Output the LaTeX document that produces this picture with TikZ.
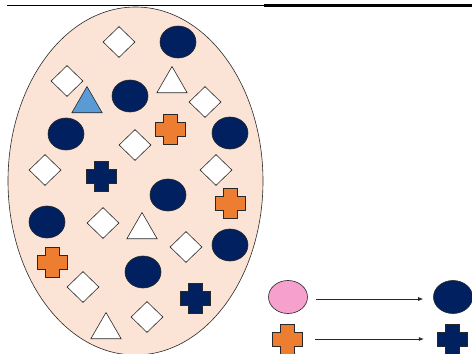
\documentclass[tikz,border=0pt]{standalone}
\usetikzlibrary{shapes.geometric,arrows.meta}
\definecolor{peach}{RGB}{251,228,214}
\definecolor{navy}{RGB}{0,32,96}
\definecolor{orng}{RGB}{237,125,49}
\definecolor{skyb}{RGB}{91,155,213}
\definecolor{pinky}{RGB}{246,160,206}
\definecolor{edge}{RGB}{40,40,40}
\tikzset{
  x=1pt,y=-1pt,
  outl/.style={draw=edge,line width=0.6pt},
  dia/.style={outl,diamond,fill=white,inner sep=0pt,minimum width=32pt,minimum height=31pt},
  blob/.style={outl,ellipse,fill=navy,inner sep=0pt,minimum width=36pt,minimum height=32pt},
  tri/.style={outl,regular polygon,regular polygon sides=3,fill=white,inner sep=0pt,minimum size=35pt},
  anchorbox/.style={inner sep=0pt,minimum size=30pt},
  pics/plus/.style={code={
    \draw[outl,fill=#1] (-7,-15) -- (7,-15) -- (7,-7) -- (15,-7) -- (15,7) -- (7,7)
      -- (7,15) -- (-7,15) -- (-7,7) -- (-15,7) -- (-15,-7) -- (-7,-7) -- cycle;}},
  conn/.style={draw=edge,line width=0.6pt,-{Latex[length=5pt,width=4pt]},shorten <=8pt,shorten >=10pt}
}
\begin{document}
\begin{tikzpicture}
\useasboundingbox (0,0) rectangle (472,354);
% big ellipse
\node[outl,ellipse,fill=peach,minimum width=255pt,minimum height=348pt,inner sep=0pt] (bag) at (135.5,181) {};
% top rule
\draw[line width=1.8pt] (7,5.5) -- (264,5.5);
\draw[line width=2.2pt] (264,5.5) -- (472,5.5);
% diamonds
\node[dia] (d1) at (119,42) {};
\node[dia] (d2) at (67,81) {};
\node[dia] (d3) at (205,102) {};
\node[dia] (d4) at (135,145) {};
\node[dia] (d5) at (45,170) {};
\node[dia] (d6) at (216,170) {};
\node[dia] (d7) at (103,223) {};
\node[dia] (d8) at (186,247) {};
\node[dia] (d9) at (83,287) {};
\node[dia] (d10) at (147,317) {};
% navy blobs
\node[blob] (c1) at (178,42) {};
\node[blob] (c2) at (130,96) {};
\node[blob] (c3) at (66,134) {};
\node[blob] (c4) at (230,133) {};
\node[blob] (c5) at (168,195) {};
\node[blob] (c6) at (47,222) {};
\node[blob] (c7) at (230,245) {};
\node[blob] (c8) at (143,272) {};
% triangles
\node[tri,fill=skyb] (t1) at (87,104) {};
\node[tri] (t2) at (172,84) {};
\node[tri] (t3) at (142,230) {};
\node[tri] (t4) at (106,330) {};
% crosses
\node[anchorbox] (x1) at (170,129) {}; \pic at (x1) {plus=orng};
\node[anchorbox] (x2) at (101,176) {}; \pic at (x2) {plus=navy};
\node[anchorbox] (x3) at (230,203) {}; \pic at (x3) {plus=orng};
\node[anchorbox] (x4) at (52,262) {}; \pic at (x4) {plus=orng};
\node[anchorbox] (x5) at (195,298) {}; \pic at (x5) {plus=navy};
% legend
\node[blob,fill=pinky,minimum width=39pt,minimum height=33pt] (lp) at (288,297) {};
\node[blob,minimum width=39pt,minimum height=33pt] (ln) at (453,297) {};
\node[anchorbox] (lo) at (287,339) {}; \pic at (lo) {plus=orng};
\node[anchorbox] (lx) at (452,339) {}; \pic at (lx) {plus=navy};
\draw[conn] (lp.east) ++(0,2) coordinate (p1) (p1) -- (p1 -| ln.west);
\draw[conn,shorten <=13pt,shorten >=13pt] (lo.east) -- (lx.west);
\end{tikzpicture}
\end{document}
